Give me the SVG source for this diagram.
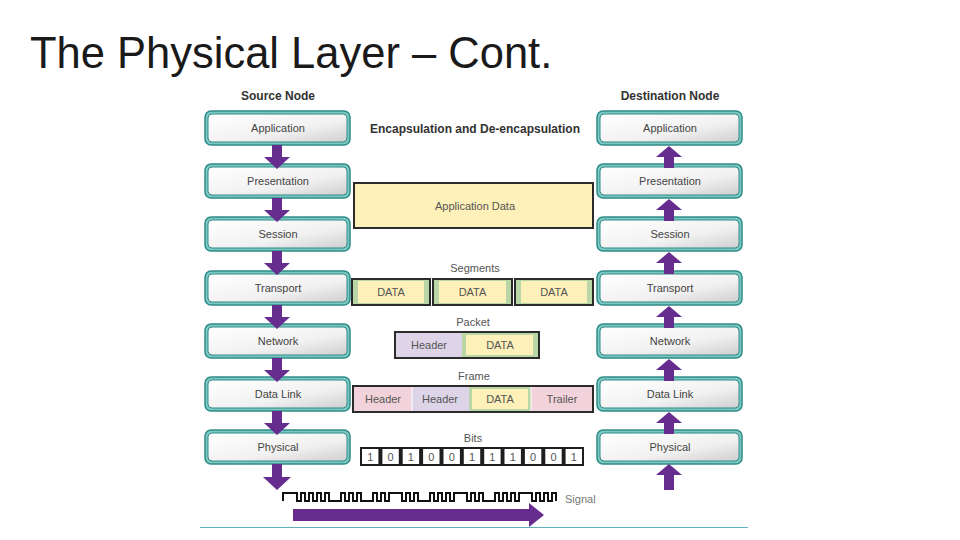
<svg xmlns="http://www.w3.org/2000/svg" width="960" height="540" viewBox="0 0 960 540">
  <defs>
    <linearGradient id="boxFill" x1="0" y1="0" x2="1" y2="1">
      <stop offset="0" stop-color="#ffffff"/>
      <stop offset="0.6" stop-color="#f1f1f1"/>
      <stop offset="1" stop-color="#cfcfcf"/>
    </linearGradient>
    <path id="downArrow" d="M-5,0 H5 V12 H13 L0,24 L-13,12 H-5 Z"/>
    <path id="upArrow" d="M0,0 L13,11 H5 V22 H-5 V11 H-13 Z"/>
    <g id="layerShape">
      <rect x="0" y="0" width="145" height="34" rx="6" fill="#7cc7c1" stroke="#2f8d88" stroke-width="1.5"/>
      <rect x="3" y="3" width="139" height="28" rx="4" fill="url(#boxFill)" stroke="#2f8d88" stroke-width="1"/>
    </g>
  </defs>
  <style>
    .lbl { font-family: "Liberation Sans", Arial, sans-serif; font-size: 11px; fill: #444; text-anchor: middle; }
    .hdr { font-family: "Liberation Sans", Arial, sans-serif; font-size: 12px; font-weight: bold; fill: #333; text-anchor: middle; }
    .cap { font-family: "Liberation Sans", Arial, sans-serif; font-size: 11px; fill: #555; text-anchor: middle; }
    .arrow { fill: #662d8f; }
    .dark { stroke: #2b2b2b; stroke-width: 2; }
    .yel { fill: #fdf0b8; }
    .grn { fill: #b9d6a6; }
    .pnk { fill: #f2d3db; }
    .lav { fill: #ddd4e8; }
  </style>

  <rect width="960" height="540" fill="#ffffff"/>

  <text id="title" x="30" y="68" font-family="'Liberation Sans', Arial, sans-serif" font-size="43.5" fill="#1a1a1a">The Physical Layer – Cont.</text>

  <text class="hdr" x="278" y="100">Source Node</text>
  <text class="hdr" x="670" y="100">Destination Node</text>
  <text class="hdr" x="475" y="133">Encapsulation and De-encapsulation</text>

  <!-- Source node layers -->
  <g id="src-application"><use href="#layerShape" x="205" y="111"/><text class="lbl" x="278" y="132">Application</text></g>
  <g id="src-presentation"><use href="#layerShape" x="205" y="164"/><text class="lbl" x="278" y="185">Presentation</text></g>
  <g id="src-session"><use href="#layerShape" x="205" y="217"/><text class="lbl" x="278" y="238">Session</text></g>
  <g id="src-transport"><use href="#layerShape" x="205" y="271"/><text class="lbl" x="278" y="292">Transport</text></g>
  <g id="src-network"><use href="#layerShape" x="205" y="324"/><text class="lbl" x="278" y="345">Network</text></g>
  <g id="src-datalink"><use href="#layerShape" x="205" y="377"/><text class="lbl" x="278" y="398">Data Link</text></g>
  <g id="src-physical"><use href="#layerShape" x="205" y="430"/><text class="lbl" x="278" y="451">Physical</text></g>

  <!-- Destination node layers -->
  <g id="dst-application"><use href="#layerShape" x="597" y="111"/><text class="lbl" x="670" y="132">Application</text></g>
  <g id="dst-presentation"><use href="#layerShape" x="597" y="164"/><text class="lbl" x="670" y="185">Presentation</text></g>
  <g id="dst-session"><use href="#layerShape" x="597" y="217"/><text class="lbl" x="670" y="238">Session</text></g>
  <g id="dst-transport"><use href="#layerShape" x="597" y="271"/><text class="lbl" x="670" y="292">Transport</text></g>
  <g id="dst-network"><use href="#layerShape" x="597" y="324"/><text class="lbl" x="670" y="345">Network</text></g>
  <g id="dst-datalink"><use href="#layerShape" x="597" y="377"/><text class="lbl" x="670" y="398">Data Link</text></g>
  <g id="dst-physical"><use href="#layerShape" x="597" y="430"/><text class="lbl" x="670" y="451">Physical</text></g>

  <!-- Application data -->
  <g id="appdata">
    <rect x="354" y="183" width="239" height="45" class="yel dark"/>
    <text class="cap" x="475" y="210">Application Data</text>
  </g>

  <!-- Segments -->
  <g id="segments">
    <text class="cap" x="475" y="272">Segments</text>
    <rect x="352" y="279" width="78" height="26" class="grn dark"/>
    <rect x="358" y="281" width="66" height="22" class="yel"/>
    <text class="cap" x="391" y="296">DATA</text>
    <rect x="433" y="279" width="79" height="26" class="grn dark"/>
    <rect x="439" y="281" width="67" height="22" class="yel"/>
    <text class="cap" x="472.5" y="296">DATA</text>
    <rect x="515" y="279" width="78" height="26" class="grn dark"/>
    <rect x="521" y="281" width="66" height="22" class="yel"/>
    <text class="cap" x="554" y="296">DATA</text>
  </g>

  <!-- Packet -->
  <g id="packet">
    <text class="cap" x="473" y="326">Packet</text>
    <rect x="395" y="332" width="144" height="26" class="grn dark"/>
    <rect x="396" y="333" width="66" height="24" class="lav"/>
    <rect x="466" y="335" width="67" height="20" class="yel"/>
    <text class="cap" x="429" y="349">Header</text>
    <text class="cap" x="500" y="349">DATA</text>
  </g>

  <!-- Frame -->
  <g id="frame">
    <text class="cap" x="474" y="380">Frame</text>
    <rect x="353" y="386" width="240" height="26" fill="#f2d3db" class="dark"/>
    <rect x="412" y="387" width="57" height="24" class="lav"/>
    <rect x="469" y="387" width="62" height="24" class="grn"/>
    <rect x="472" y="389" width="56" height="20" class="yel"/>
    <line x1="412" y1="387" x2="412" y2="411" stroke="#ffffff" stroke-width="1"/>
    <line x1="531" y1="387" x2="531" y2="411" stroke="#ffffff" stroke-width="1"/>
    <text class="cap" x="383" y="403">Header</text>
    <text class="cap" x="440" y="403">Header</text>
    <text class="cap" x="500" y="403">DATA</text>
    <text class="cap" x="562" y="403">Trailer</text>
  </g>

  <!-- Bits -->
  <g id="bits">
    <text class="cap" x="473" y="442">Bits</text>
    <rect x="360" y="447" width="224" height="19" fill="#1e1e1e"/>
    <g fill="#ffffff">
      <rect x="362" y="449" width="16.4" height="15"/>
      <rect x="382.4" y="449" width="16.4" height="15"/>
      <rect x="402.7" y="449" width="16.4" height="15"/>
      <rect x="423.1" y="449" width="16.4" height="15"/>
      <rect x="443.5" y="449" width="16.4" height="15"/>
      <rect x="463.8" y="449" width="16.4" height="15"/>
      <rect x="484.2" y="449" width="16.4" height="15"/>
      <rect x="504.5" y="449" width="16.4" height="15"/>
      <rect x="524.9" y="449" width="16.4" height="15"/>
      <rect x="545.3" y="449" width="16.4" height="15"/>
      <rect x="565.6" y="449" width="16.4" height="15"/>
    </g>
    <text class="cap" x="370.2" y="461">1</text>
    <text class="cap" x="390.6" y="461">0</text>
    <text class="cap" x="410.9" y="461">1</text>
    <text class="cap" x="431.3" y="461">0</text>
    <text class="cap" x="451.7" y="461">0</text>
    <text class="cap" x="472" y="461">1</text>
    <text class="cap" x="492.4" y="461">1</text>
    <text class="cap" x="512.7" y="461">1</text>
    <text class="cap" x="533.1" y="461">0</text>
    <text class="cap" x="553.5" y="461">0</text>
    <text class="cap" x="573.8" y="461">1</text>
  </g>

  <!-- Signal -->
  <g id="signal">
    <path d="M283,501 V493 H297 V501 H301 V493 H305 V501 H309 V493 H313 V501 H317 V493 H321 V501 H325 V493 H329 V501 H341 V493 H345 V501 H349 V493 H353 V501 H357 V493 H361 V501 H373 V493 H377 V501 H381 V493 H385 V501 H389 V493 H402 V501 H406 V493 H410 V501 H414 V493 H418 V501 H430 V493 H434 V501 H438 V493 H442 V501 H446 V493 H450 V501 H454 V493 H467 V501 H471 V493 H475 V501 H479 V493 H483 V501 H495 V493 H499 V501 H503 V493 H507 V501 H511 V493 H515 V501 H519 V493 H532 V501 H536 V493 H540 V501 H544 V493 H548 V501 H552 V493 H556 V501" fill="none" stroke="#111111" stroke-width="2"/>
    <text x="565" y="503" font-family="'Liberation Sans', Arial, sans-serif" font-size="11" fill="#777">Signal</text>
    <path class="arrow" d="M293,509 H529 V503 L544,515 L529,527 V521 H293 Z"/>
  </g>

  <!-- Connectors -->
  <g id="connectors" class="arrow">
    <use href="#downArrow" x="277" y="145"/>
    <use href="#downArrow" x="277" y="198"/>
    <use href="#downArrow" x="277" y="251"/>
    <use href="#downArrow" x="277" y="305"/>
    <use href="#downArrow" x="277" y="358"/>
    <use href="#downArrow" x="277" y="411"/>
    <path d="M272,464 H282 V477 H291 L277,490 L263,477 H272 Z"/>
    <use href="#upArrow" x="669" y="146"/>
    <use href="#upArrow" x="669" y="199"/>
    <use href="#upArrow" x="669" y="252"/>
    <use href="#upArrow" x="669" y="306"/>
    <use href="#upArrow" x="669" y="359"/>
    <use href="#upArrow" x="669" y="412"/>
    <path d="M669,464 L682,475 H674 V490 H664 V475 H656 Z"/>
  </g>

  <line x1="200" y1="527.5" x2="748" y2="527.5" stroke="#5fb0b8" stroke-width="1"/>
</svg>
